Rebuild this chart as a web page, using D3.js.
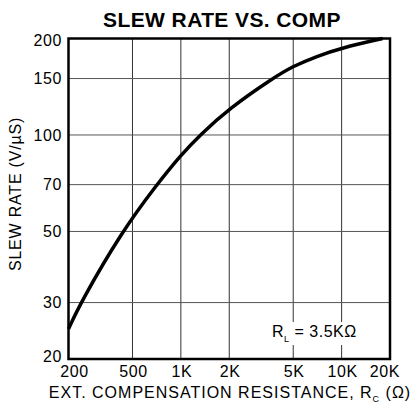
<!DOCTYPE html>
<html>
<head>
<meta charset="utf-8">
<script src="https://cdn.jsdelivr.net/npm/d3@7"></script>
<style>
  body { margin: 0; background: #fff; }
  svg text { font-family: "Liberation Sans", Arial, sans-serif; fill: #000; }
</style>
</head>
<body>
<div class="chart"></div>
<script>
// slew rate vs external compensation resistance (RL = 3.5K)
var resistance = [200, 238, 430, 708, 1000, 1315, 2000, 3700, 5000, 7000, 10000, 18000];
var slewRate = [24.8, 30, 50, 70, 86.6, 100, 121, 150, 164, 176, 187, 200];

var xTicks = [200, 500, 1000, 2000, 5000, 10000, 20000];
var xTickLabels = ['200', '500', '1K', '2K', '5K', '10K', '20K'];
var yTicks = [20, 30, 50, 70, 100, 150, 200];

var w = 418, h = 406;
var plotL = 68.5, plotR = 390, plotT = 38.5, plotB = 359;

var svg = d3.select('.chart').append('svg')
    .attr('width', w)
    .attr('height', h);

var x = d3.scaleLog().domain([200, 20000]).range([plotL, plotR]);
var y = d3.scaleLog().domain([20, 200]).range([plotB, plotT]);

// grid
svg.append('g')
    .selectAll('line')
    .data(xTicks)
    .enter()
    .append('line')
    .attr('x1', function (d) { return x(d); })
    .attr('x2', function (d) { return x(d); })
    .attr('y1', plotT)
    .attr('y2', plotB)
    .style('stroke', '#333')
    .style('stroke-width', 1);

svg.append('g')
    .selectAll('line')
    .data(yTicks)
    .enter()
    .append('line')
    .attr('x1', plotL)
    .attr('x2', plotR)
    .attr('y1', function (d) { return y(d); })
    .attr('y2', function (d) { return y(d); })
    .style('stroke', '#555')
    .style('stroke-width', 1);

// annotation box hides grid behind it
svg.append('rect')
    .attr('x', 268)
    .attr('y', 322)
    .attr('width', 96)
    .attr('height', 23)
    .style('fill', '#fff');

var note = svg.append('text')
    .attr('x', 272)
    .attr('y', 337)
    .style('font-size', '16px')
    .style('letter-spacing', '0.5px');
note.append('tspan').text('R');
note.append('tspan').attr('dy', 5).style('font-size', '9px').text('L');
note.append('tspan').attr('dy', -5).text(' = 3.5K\u03A9');

// frame
svg.append('rect')
    .attr('x', plotL)
    .attr('y', plotT)
    .attr('width', plotR - plotL)
    .attr('height', plotB - plotT)
    .style('fill', 'none')
    .style('stroke', '#000')
    .style('stroke-width', 2.5);

// curve (b-spline smooths out reading noise)
var line = d3.line()
    .x(function (d) { return x(d[0]); })
    .y(function (d) { return y(d[1]); })
    .curve(d3.curveBasis);

svg.append('path')
    .datum(d3.zip(resistance, slewRate))
    .attr('d', line)
    .style('fill', 'none')
    .style('stroke', '#000')
    .style('stroke-width', 3.5);

// x tick labels
svg.append('g')
    .selectAll('text')
    .data(xTicks)
    .enter()
    .append('text')
    .attr('x', function (d, i) {
        var off = i === 0 ? 6 : (i === xTicks.length - 1 ? -5 : 1);
        return x(d) + off;
    })
    .attr('y', 377)
    .attr('text-anchor', 'middle')
    .style('font-size', '16px')
    .style('letter-spacing', '0.6px')
    .text(function (d, i) { return xTickLabels[i]; });

// y tick labels
svg.append('g')
    .selectAll('text')
    .data(yTicks)
    .enter()
    .append('text')
    .attr('x', 62)
    .attr('y', function (d, i) {
        var off = i === 0 ? -3 : (i === yTicks.length - 1 ? 2 : 0);
        return y(d) + off;
    })
    .attr('dy', '0.35em')
    .attr('text-anchor', 'end')
    .style('font-size', '16px')
    .style('letter-spacing', '0.6px')
    .text(function (d) { return d; });

// title
svg.append('text')
    .attr('x', 222)
    .attr('y', 27)
    .attr('text-anchor', 'middle')
    .style('font-size', '21px')
    .style('font-weight', 'bold')
    .style('letter-spacing', '0.4px')
    .text('SLEW RATE VS. COMP');

// axis titles
var xt = svg.append('text')
    .attr('x', 230)
    .attr('y', 398)
    .attr('text-anchor', 'middle')
    .style('font-size', '16px')
    .style('letter-spacing', '1px');
xt.append('tspan').text('EXT. COMPENSATION RESISTANCE, R');
xt.append('tspan').attr('dy', 4).style('font-size', '9px').text('C');
xt.append('tspan').attr('dy', -4).text(' (\u03A9)');

svg.append('text')
    .attr('transform', 'translate(21,194) rotate(-90)')
    .attr('text-anchor', 'middle')
    .style('font-size', '16px')
    .style('letter-spacing', '0.8px')
    .text('SLEW RATE (V/\u00B5S)');
</script>
</body>
</html>
